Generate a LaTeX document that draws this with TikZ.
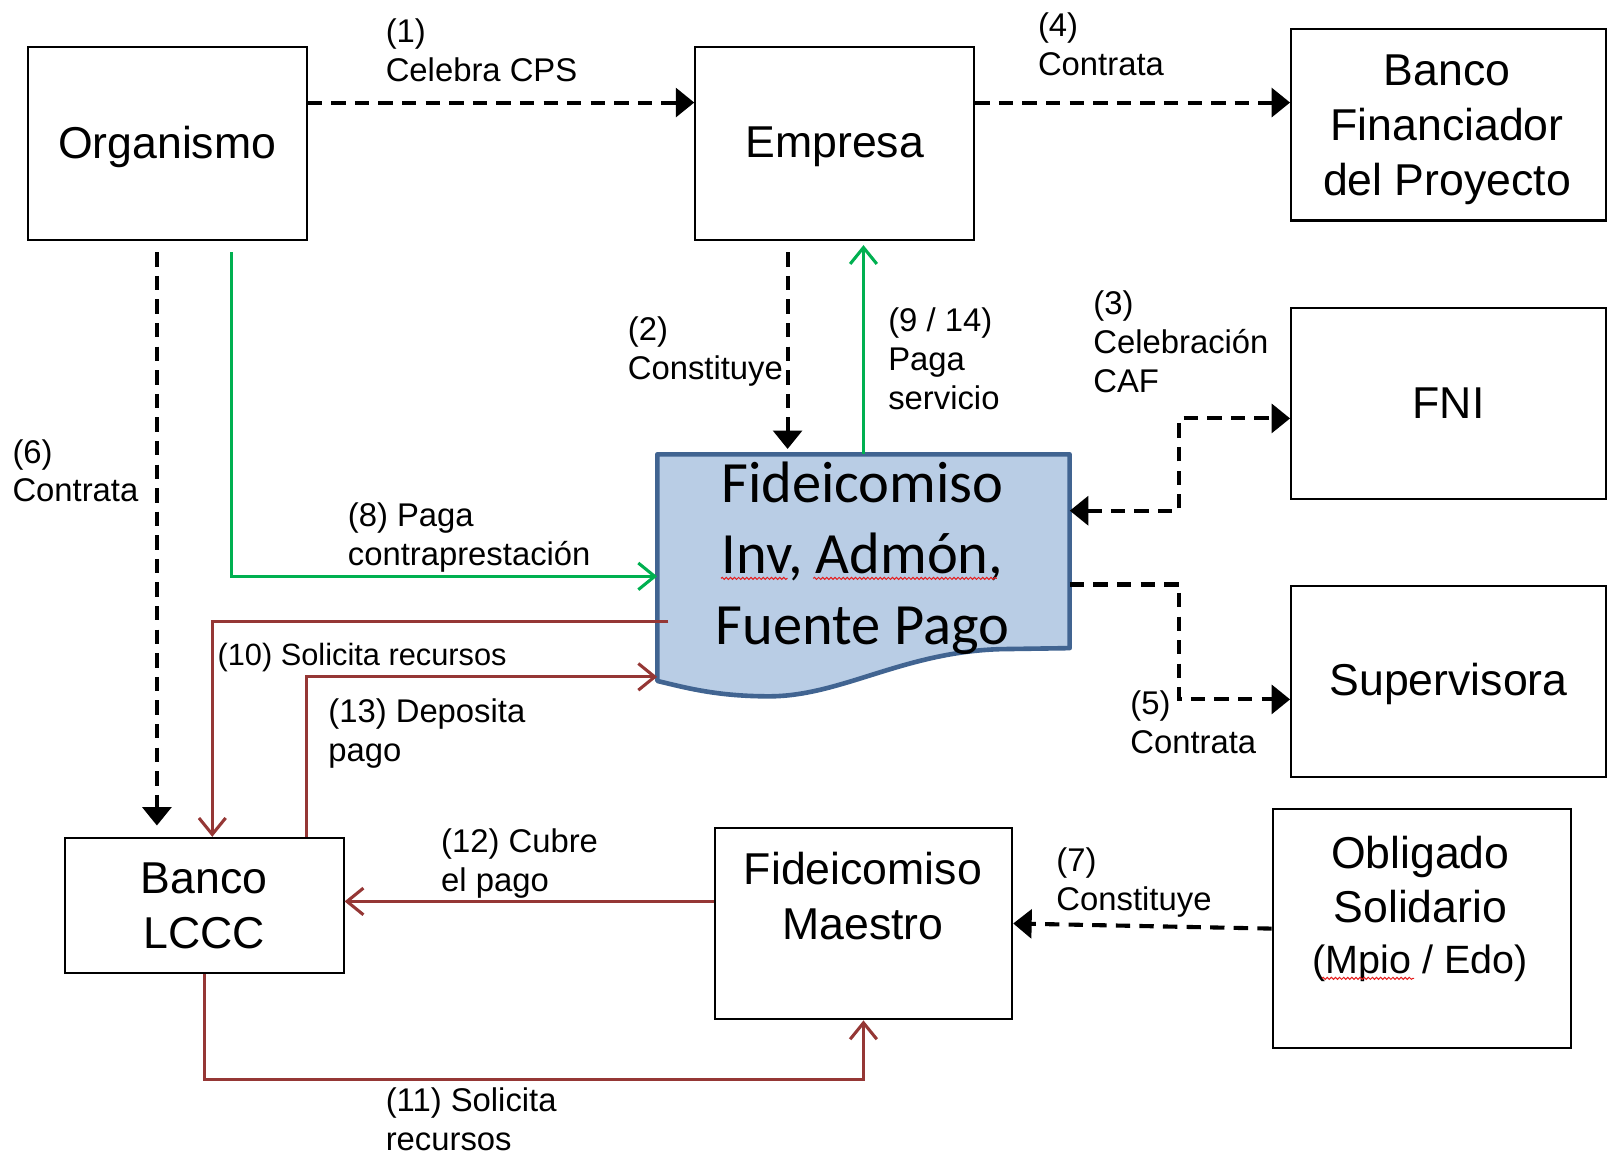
\documentclass[tikz,border=0pt]{standalone}
\usepackage{fontspec}
\setmainfont{Liberation Sans}
\newfontfamily\calib{Carlito}
\usetikzlibrary{arrows.meta,decorations.pathmorphing,calc}
\definecolor{grn}{RGB}{0,176,80}
\definecolor{dred}{RGB}{149,55,53}
\definecolor{docfill}{RGB}{185,205,229}
\definecolor{docline}{RGB}{65,100,145}
\definecolor{spell}{RGB}{230,30,30}
\begin{document}
\begin{tikzpicture}[x=1pt,y=-1pt,
 box/.style={draw=black, line width=2pt, inner sep=0pt, align=center, font=\fontsize{43.5}{53.5}\selectfont},
 btext/.style={inner sep=0pt, align=center, font=\fontsize{43.5}{53.5}\selectfont},
 lbl/.style={anchor=base west, align=left, inner sep=0pt, font=\fontsize{32}{38}\selectfont},
 dline/.style={line width=4pt, dash pattern=on 14pt off 9pt},
 darr/.style={dline, -{Triangle[width=28pt,length=18pt]}},
 darrb/.style={dline, {Triangle[width=28pt,length=18pt]}-{Triangle[width=28pt,length=18pt]}},
 garr/.style={grn, line width=3pt, -{Straight Barb[width=26pt,length=16pt]}},
 rarr/.style={dred, line width=3pt, -{Straight Barb[width=26pt,length=16pt]}},
 wavy/.style={spell, line width=1pt, decorate, decoration={snake, amplitude=1pt, segment length=4pt}}
]
\useasboundingbox (0,0) rectangle (1568,1127);

% boxes
\node[box, minimum width=272pt, minimum height=188pt] (org) at (163,140) {};
\node[btext] (orgt) at (163,143) {Organismo};
\node[box, minimum width=272pt, minimum height=188pt] (emp) at (814,140) {};
\node[btext] (empt) at (814,143) {Empresa};
\node[box, minimum width=307pt, minimum height=187pt] (bfp) at (1412.5,121.5) {};
\node[btext, anchor=base] (bfpt) at (1411,190.5) {Banco\\Financiador\\del Proyecto};
\node[box, minimum width=307pt, minimum height=187pt] (fni) at (1412.5,393.5) {FNI};
\node[box, minimum width=307pt, minimum height=187pt] (sup) at (1412.5,664.5) {};
\node[btext] (supt) at (1412.5,667) {Supervisora};
\node[box, minimum width=272pt, minimum height=132pt] (lccc) at (199,883) {Banco\\LCCC};
\node[box, minimum width=290pt, minimum height=187pt] (fm) at (842,900.5) {};
\node[btext, anchor=base] (fmt) at (841.5,916) {Fideicomiso\\Maestro};
\node[box, minimum width=291pt, minimum height=233pt] (obl) at (1386.5,905.5) {};
\node[btext, anchor=base] (oblt) at (1385,900) {Obligado\\Solidario};
\node[inner sep=0pt, anchor=base, font=\fontsize{38.5}{48}\selectfont] (oblt2) at (1385,948.8) {(Mpio / Edo)};
\draw[wavy] (1289,954) -- (1379,954);

% document shape
\node[inner sep=0pt, minimum width=402pt, minimum height=189pt] (fid) at (842,537.5) {};
\draw[docline, fill=docfill, line width=4.5pt, line join=round]
  (641,443) -- (1043,443) -- (1043,632) -- (975,633)
  .. controls (880,636) and (820,679) .. (750,679)
  .. controls (700,679) and (670,671) .. (641,664) -- cycle;
\node[inner sep=0pt, anchor=base, align=center, font=\calib\fontsize{57}{69}\selectfont] (fidt) at (841,628) {Fideicomiso\\Inv, Admón,\\Fuente Pago};
\draw[wavy] (703,564) -- (768,564);
\draw[wavy] (793,564) -- (972,564);

% connectors
\coordinate (a1) at ([yshift=40pt]org.east);
\draw[darr] (a1) -- (a1 -| emp.west);
\coordinate (a4) at ([yshift=40pt]emp.east);
\draw[darr] (a4) -- (a4 -| bfp.west);
\coordinate (a2) at ([xshift=-46pt]emp.south);
\draw[darr, shorten <=11pt, shorten >=5pt] (a2) -- (a2 |- fid.north);
\draw[garr, shorten >=4pt] (fid.north) -- (fid.north |- emp.south);
\coordinate (m3) at (1150,0);
\coordinate (a3s) at ([yshift=39.5pt]fid.east);
\coordinate (a3e) at ([yshift=-14.5pt]fni.west);
\draw[darrb] (a3s) -- (a3s -| m3) -- (a3e -| m3) -- (a3e);
\coordinate (a5s) at ([yshift=-32.5pt]fid.east);
\coordinate (a5e) at ([yshift=-17.5pt]sup.west);
\draw[darr] (a5s) -- (a5s -| m3) -- (a5e -| m3) -- (a5e);
\coordinate (a6) at ([xshift=-10pt]org.south);
\draw[darr, shorten <=11pt, shorten >=11pt] (a6) -- (a6 |- lccc.north);
\coordinate (a8) at ([xshift=63pt]org.south);
\coordinate (a8e) at ([yshift=-24.5pt]fid.west);
\draw[garr, shorten <=11pt] (a8) -- (a8 |- a8e) -- (a8e);
\coordinate (a10s) at ([xshift=11pt,yshift=-68.5pt]fid.west);
\coordinate (a10m) at ([xshift=8pt]lccc.north);
\draw[rarr] (a10s) -- (a10s -| a10m) -- (a10m);
\coordinate (a13s) at ([xshift=100pt]lccc.north);
\coordinate (a13e) at ([yshift=-122.5pt]fid.west);
\draw[rarr] (a13s) -- (a13s |- a13e) -- (a13e);
\coordinate (a12) at ([yshift=21.5pt]fm.west);
\draw[rarr] (a12) -- (a12 -| lccc.east);
\draw[rarr] (lccc.south) -- ++(0,103) -| (fm.south);
\draw[darr] (obl.west) -- (fm.east);

% labels (base = baseline of last line)
\node[lbl] (l1) at (376,79.5) {(1)\\Celebra CPS};
\node[lbl] (l4) at (1012,73.5) {(4)\\Contrata};
\node[lbl] (l2) at (612,370.5) {(2)\\Constituye};
\node[lbl] (l9) at (866,399.5) {(9 / 14)\\Paga\\servicio};
\node[lbl] (l3) at (1066,382.5) {(3)\\Celebración\\CAF};
\node[lbl] (l5) at (1102,734.5) {(5)\\Contrata};
\node[lbl] (l6) at (12,489.5) {(6)\\Contrata};
\node[lbl] (l8) at (339,551.5) {(8) Paga\\contraprestación};
\node[lbl, font=\fontsize{30}{38}\selectfont] (l10) at (212,649) {(10) Solicita recursos};
\node[lbl] (l13) at (320,742.5) {(13) Deposita\\pago};
\node[lbl] (l12) at (430,869.5) {(12) Cubre\\el pago};
\node[lbl] (l11) at (376,1122) {(11) Solicita\\recursos};
\node[lbl] (l7) at (1030,887.5) {(7)\\Constituye};
\end{tikzpicture}
\end{document}
